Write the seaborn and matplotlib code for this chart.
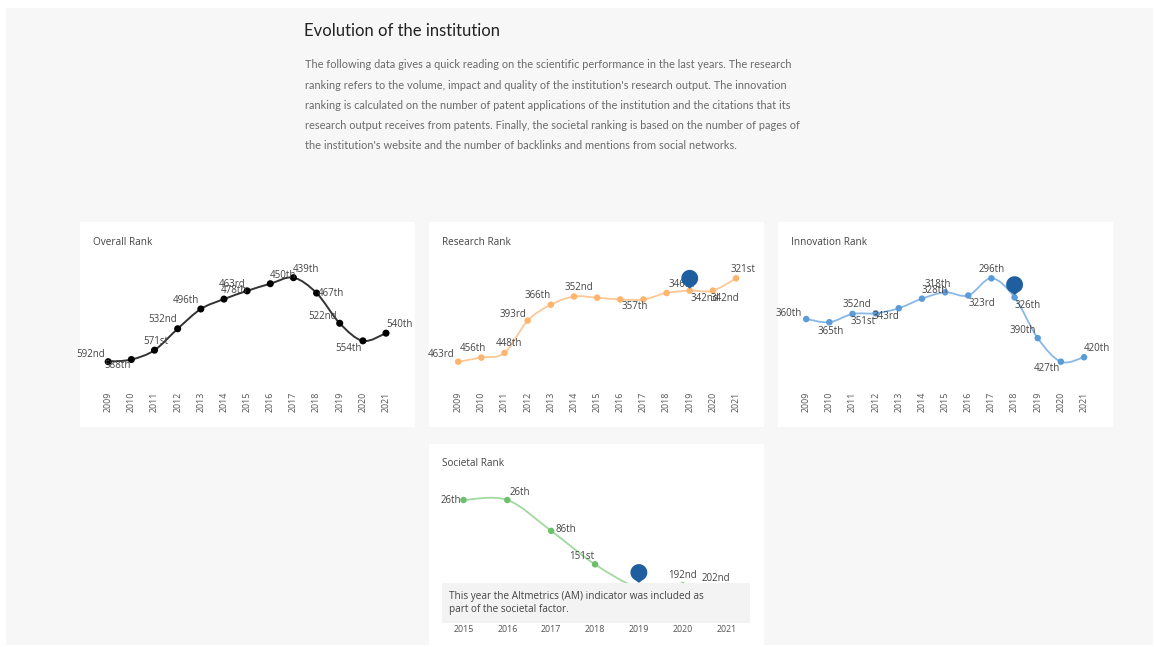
import numpy as np
import pandas as pd
import matplotlib
matplotlib.use('Agg')
import matplotlib.pyplot as plt
import seaborn as sns
from matplotlib.path import Path
from matplotlib.patches import PathPatch, Rectangle

sns.set_theme(style='white')
plt.rcParams['font.family'] = ['Open Sans', 'DejaVu Sans']

W, H = 1156, 647

# ---- data ----
years = list(range(2009, 2022))
overall_rank = [592, 588, 571, 532, 496, 478, 463, 450, 439, 467, 522, 554, 540]
research_rank = [463, 456, 448, 393, 366, 352, 354, 357, 357, 346, 342, 342, 321]
innovation_rank = [360, 365, 352, 351, 343, 328, 318, 323, 296, 326, 390, 427, 420]
societal_years = list(range(2015, 2022))
societal_rank = [26, 26, 86, 151, 196, 192, 202]

# labels that are hidden in the reference
research_show = [1, 1, 1, 1, 1, 1, 0, 0, 1, 1, 1, 1, 1]
societal_show = [1, 1, 1, 1, 0, 1, 1]

# highlighted "event" markers (year, rank)
research_event = (2019, 321)
innovation_event = (2018, 306)
societal_event = (2019, 167)

title = "Evolution of the institution"
paragraph = [
    "The following data gives a quick reading on the scientific performance in the last years. The research",
    "ranking refers to the volume, impact and quality of the institution's research output. The innovation",
    "ranking is calculated on the number of patent applications of the institution and the citations that its",
    "research output receives from patents. Finally, the societal ranking is based on the number of pages of",
    "the institution's website and the number of backlinks and mentions from social networks.",
]
note = "This year the Altmetrics (AM) indicator was included as\npart of the societal factor."

# ---- label offsets (pixels, label centre relative to point; +y is down) ----
overall_off = [(-18, -7), (-14, 6), (1, -9), (-15, -9), (-15, -8), (10, -9), (-15, -6),
               (13, -8), (13, -8), (14, 0), (-17, -7), (-14, 8), (13, -9)]
research_off = [(-17, -7), (-8, -9), (4, -9), (-15, -6), (-13, -9), (5, -9), (0, 0),
                (0, 0), (-9, 7), (15, -8), (15, 8), (12, 8), (7, -9)]
innovation_off = [(-18, -6), (1, 9), (4, -9), (-13, 8), (-13, 8), (13, -8), (-7, -8),
                  (14, 8), (0, -9), (13, 8), (-15, -8), (-14, 7), (13, -9)]
societal_off = [(-13, 0), (12, -8), (15, -1), (-13, -8), (0, 0), (0, -10), (-11, -12)]


def ordinal(n):
    if 10 <= n % 100 <= 20:
        suf = 'th'
    else:
        suf = {1: 'st', 2: 'nd', 3: 'rd'}.get(n % 10, 'th')
    return f"{n}{suf}"


def px_rect(x0, y0, x1, y1):
    return [x0 / W, 1 - y1 / H, (x1 - x0) / W, (y1 - y0) / H]


def smooth_path(x, y, tension=0.5):
    # Catmull-Rom style bezier through the points
    pts = np.column_stack([x, y]).astype(float)
    verts = [pts[0]]
    codes = [Path.MOVETO]
    n = len(pts)
    for i in range(n - 1):
        p0 = pts[i - 1] if i > 0 else pts[i]
        p1, p2 = pts[i], pts[i + 1]
        p3 = pts[i + 2] if i + 2 < n else pts[i + 1]
        c1 = p1 + (p2 - p0) * tension / 3
        c2 = p2 - (p3 - p1) * tension / 3
        verts += [c1, c2, p2]
        codes += [Path.CURVE4] * 3
    return Path(verts, codes)


# map-pin marker: circle with a small tip below
pin_verts = [(np.cos(t), np.sin(t)) for t in np.linspace(-np.pi / 2 + 0.45, 3 * np.pi / 2 - 0.45, 40)]
pin_verts = [(0, -1.22)] + pin_verts + [(0, -1.22)]
pin_marker = Path(pin_verts)

fig = plt.figure(figsize=(W / 100, H / 100), dpi=100)
fig.patch.set_facecolor('white')
fig.patches.append(Rectangle((6 / W, 1 - 645 / H), 1147 / W, 637 / H, transform=fig.transFigure,
                             facecolor='#f7f7f7', edgecolor='none', zorder=-10))

head_font = ['Lato', 'DejaVu Sans']
fig.text(304 / W, 1 - 31 / H, title, fontsize=12.0, color='#222222', va='center', ha='left',
         family=head_font)
for i, line in enumerate(paragraph):
    fig.text(305 / W, 1 - (65 + 20.2 * i) / H, line, fontsize=7.9, color='#6a6a6a', va='center',
             ha='left', family=head_font)


def panel(box, name):
    x0, y0, x1, y1 = box
    fig.patches.append(Rectangle((x0 / W, 1 - y1 / H), (x1 - x0) / W, (y1 - y0) / H,
                                 transform=fig.transFigure, facecolor='white', edgecolor='none',
                                 zorder=-5))
    fig.text((x0 + 13) / W, 1 - (y0 + 20) / H, name, fontsize=7.2, color='#444444',
             va='center', ha='left')


def draw(ax_box, xs, ys, color, line_color, offs, show, xlim, ylim, rot, event=None,
         msize=22, lw=1.3):
    ax = fig.add_axes(px_rect(*ax_box))
    ax.set_facecolor('none')
    df = pd.DataFrame({'year': xs, 'rank': ys})
    ax.add_patch(PathPatch(smooth_path(df['year'], df['rank']), facecolor='none',
                           edgecolor=line_color, lw=lw, zorder=2))
    sns.scatterplot(data=df, x='year', y='rank', ax=ax, color=color, s=msize,
                    edgecolor='none', zorder=3, legend=False)
    for (x, y, (dx, dy), sh) in zip(xs, ys, offs, show):
        if not sh:
            continue
        ax.annotate(ordinal(y), (x, y), xytext=(dx, -dy), textcoords='offset pixels',
                    ha='center', va='center', fontsize=7, color='#444444', zorder=4)
    if event is not None:
        ax.scatter([event[0]], [event[1]], marker=pin_marker, s=220, color='#1f5fa0',
                   edgecolor='none', zorder=5)
    ax.set_xlim(*xlim)
    ax.set_ylim(*ylim)
    ax.set_xticks(xs)
    ax.set_xticklabels([str(x) for x in xs], rotation=rot, fontsize=6.4, color='#555555')
    ax.tick_params(axis='x', length=0, pad=5)
    ax.set_yticks([])
    ax.set_xlabel('')
    ax.set_ylabel('')
    for s in ax.spines.values():
        s.set_visible(False)
    ax.grid(False)
    return ax


all_show = [1] * len(years)

panel((80, 222, 415, 427), "Overall Rank")
draw((92, 255, 402, 385), years, overall_rank, '#000000', '#333333', overall_off, all_show,
     (2008.30, 2021.69), (634.4, 397.7), 90, msize=26, lw=1.4)

panel((429, 222, 764, 427), "Research Rank")
draw((442, 255, 752, 385), years, research_rank, '#fdb46c', '#fdc896', research_off, research_show,
     (2008.30, 2021.69), (502.7, 281.3), 90, event=research_event)

panel((778, 222, 1113, 427), "Innovation Rank")
draw((790, 255, 1100, 385), years, innovation_rank, '#5a9bd8', '#8ab8e6', innovation_off, all_show,
     (2008.30, 2021.69), (463.6, 259.4), 90, event=innovation_event)

panel((429, 444, 764, 647), "Societal Rank")
draw((442, 478, 752, 618), societal_years, societal_rank, '#6cc06c', '#a3d8a0', societal_off,
     societal_show, (2014.51, 2021.58), (255.4, -16.8), 0, event=societal_event)

# note box over the societal chart
fig.patches.append(Rectangle((442 / W, 1 - 623 / H), 308 / W, 40 / H, transform=fig.transFigure,
                             facecolor='#f3f3f3', edgecolor='none', zorder=10))
fig.text(449 / W, 1 - 603 / H, note, fontsize=7.2, color='#444444', va='center', ha='left',
         linespacing=1.3, zorder=11)

fig.savefig('out.png', dpi=100, facecolor=fig.get_facecolor())
